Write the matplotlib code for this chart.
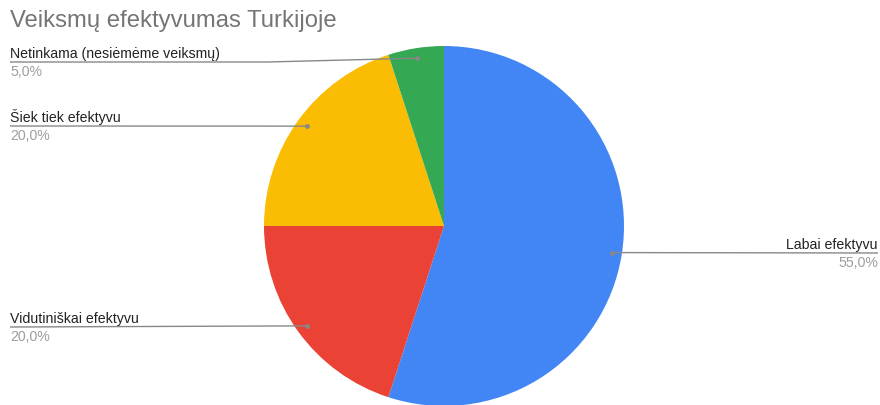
import matplotlib
matplotlib.use("Agg")
import matplotlib.pyplot as plt
import numpy as np

plt.rcParams['font.family'] = ['Liberation Sans', 'DejaVu Sans']

title = "Veiksmų efektyvumas Turkijoje"
categories = ["Labai efektyvu", "Vidutiniškai efektyvu", "Šiek tiek efektyvu", "Netinkama (nesiėmėme veiksmų)"]
values = [55.0, 20.0, 20.0, 5.0]
pct_labels = ["55,0%", "20,0%", "20,0%", "5,0%"]
colors = ["#4285F4", "#EA4335", "#FBBC04", "#34A853"]

W, H = 880, 405
fig = plt.figure(figsize=(W / 100, H / 100), dpi=100)
ax = fig.add_axes([0, 0, 1, 1])
ax.set_xlim(0, W)
ax.set_ylim(0, H)
ax.set_aspect('equal')
ax.axis('off')

cx, cy, R = 444, H - 226, 180
wedges, _ = ax.pie(values, colors=colors, startangle=90, counterclock=False,
                   center=(cx, cy), radius=R, frame=True,
                   wedgeprops=dict(linewidth=0))
ax.set_xlim(0, W)
ax.set_ylim(0, H)
ax.axis('off')

# label line y positions (in pixel-from-top), and sides
line_y = [253, 327, 126, 62]
sides = ['right', 'left', 'left', 'left']
line_col = "#888888"
for w, cat, pct, ly, side in zip(wedges, categories, pct_labels, line_y, sides):
    mid = np.deg2rad((w.theta1 + w.theta2) / 2)
    dx = cx + 0.944 * R * np.cos(mid)
    dy = cy + 0.944 * R * np.sin(mid)
    yl = H - ly
    if side == 'right':
        xs = [dx, W - 2]
        ys = [dy, yl]
        ax.plot(xs, ys, color=line_col, lw=1.0, solid_capstyle='butt')
        tx, ha = W - 2, 'right'
    else:
        if abs(dy - yl) > 2:
            xs = [dx, dx - 150, 10]
            ys = [dy, yl, yl]
        else:
            xs = [dx, 10]
            ys = [dy, yl]
        ax.plot(xs, ys, color=line_col, lw=1.0, solid_capstyle='butt')
        tx, ha = 10, 'left'
    ax.plot([dx], [dy], 'o', color=line_col, ms=3.5, mec='none')
    ax.text(tx, yl + 4, cat, ha=ha, va='baseline', fontsize=10.2, color="#222222")
    ax.text(tx, yl - 3, pct, ha=ha, va='top', fontsize=10.2, color="#9E9E9E")

fig.text(10 / W, 1 - 27 / H, title, ha='left', va='baseline', fontsize=17.2, color="#757575")

fig.savefig("out.png", dpi=100)
